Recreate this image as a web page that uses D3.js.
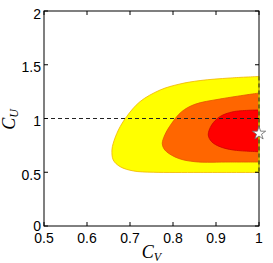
<!DOCTYPE html>
<html>
<head>
<meta charset="utf-8">
<script src="https://cdn.jsdelivr.net/npm/d3@7"></script>
<style>
  body { margin: 0; background: #fff; }
  svg { display: block; }
  .tick-label { font-family: "Liberation Sans", Arial, sans-serif; font-size: 14px; fill: #000; }
  .axis-title { font-family: "Liberation Serif", "DejaVu Serif", serif; font-style: italic; fill: #000; }
</style>
</head>
<body>
<div id="container"></div>
<script>
// x ticks (C_V) and y ticks (C_U)
var xTicks = [0.5, 0.6, 0.7, 0.8, 0.9, 1];
var xTickLabels = ['0.5', '0.6', '0.7', '0.8', '0.9', '1'];
var yTicks = [0, 0.5, 1, 1.5, 2];
var yTickLabels = ['0', '0.5', '1', '1.5', '2'];

// contour boundaries as [C_V, C_U], from top right round to bottom right
var outerContour = [
  [1.0, 1.391], [0.933, 1.377], [0.863, 1.353], [0.816, 1.321], [0.770, 1.265],
  [0.723, 1.156], [0.692, 1.017], [0.673, 0.893], [0.661, 0.769], [0.658, 0.707],
  [0.661, 0.614], [0.677, 0.552], [0.708, 0.512], [0.754, 0.500], [0.863, 0.498], [1.0, 0.498]
];
var middleContour = [
  [1.0, 1.237], [0.909, 1.181], [0.851, 1.132], [0.820, 1.063], [0.797, 0.955],
  [0.781, 0.847], [0.775, 0.769], [0.778, 0.726], [0.785, 0.691], [0.812, 0.630],
  [0.851, 0.598], [0.933, 0.595], [1.0, 0.595]
];
var innerContour = [
  [1.0, 1.079], [0.940, 1.063], [0.909, 1.017], [0.890, 0.940], [0.882, 0.847],
  [0.890, 0.784], [0.909, 0.738], [0.940, 0.707], [1.0, 0.691]
];
var bestFit = [1.0, 0.862];
var smReference = 1; // dashed line at C_U = 1

var width = 273, height = 263;
var margin = {top: 11, right: 14, bottom: 37, left: 44};

var svg = d3.select('#container').append('svg')
  .attr('width', width)
  .attr('height', height);

var x = d3.scaleLinear().domain([0.5, 1]).range([margin.left, width - margin.right]);
var y = d3.scaleLinear().domain([0, 2]).range([height - margin.bottom, margin.top]);

var line = d3.line()
  .x(function(d) { return x(d[0]); })
  .y(function(d) { return y(d[1]); })
  .curve(d3.curveCatmullRom);

var regions = [
  {pts: outerContour, fill: '#ffff00', stroke: '#f0b400'},
  {pts: middleContour, fill: '#ff6600', stroke: '#e25500'},
  {pts: innerContour, fill: '#ff0000', stroke: '#cc0000'}
];

svg.selectAll('.region')
  .data(regions)
  .enter()
  .append('path')
  .attr('class', 'region')
  .attr('d', function(d) { return line(d.pts) + 'Z'; })
  .attr('fill', function(d) { return d.fill; })
  .attr('stroke', function(d) { return d.stroke; })
  .attr('stroke-width', 0.8);

// dashed reference lines
svg.append('line')
  .attr('x1', x(0.5)).attr('x2', x(1))
  .attr('y1', y(smReference)).attr('y2', y(smReference))
  .attr('stroke', '#222').attr('stroke-width', 1)
  .attr('stroke-dasharray', '4,3');

// plot box
svg.append('rect')
  .attr('x', x(0.5)).attr('y', y(2))
  .attr('width', x(1) - x(0.5)).attr('height', y(0) - y(2))
  .attr('fill', 'none').attr('stroke', '#000').attr('stroke-width', 1);

svg.append('line')
  .attr('x1', x(1)).attr('x2', x(1))
  .attr('y1', y(outerContour[0][1])).attr('y2', y(outerContour[outerContour.length - 1][1]))
  .attr('stroke', '#ffff00').attr('stroke-width', 1.2);
svg.append('line')
  .attr('x1', x(1)).attr('x2', x(1))
  .attr('y1', y(outerContour[0][1])).attr('y2', y(outerContour[outerContour.length - 1][1]))
  .attr('stroke', '#222').attr('stroke-width', 1)
  .attr('stroke-dasharray', '4,3');

// ticks, inward on all four sides
var tl = 4;
xTicks.forEach(function(t) {
  svg.append('line').attr('x1', x(t)).attr('x2', x(t)).attr('y1', y(0)).attr('y2', y(0) - tl).attr('stroke', '#000');
  svg.append('line').attr('x1', x(t)).attr('x2', x(t)).attr('y1', y(2)).attr('y2', y(2) + tl).attr('stroke', '#000');
});
yTicks.forEach(function(t) {
  svg.append('line').attr('x1', x(0.5)).attr('x2', x(0.5) + tl).attr('y1', y(t)).attr('y2', y(t)).attr('stroke', '#000');
  svg.append('line').attr('x1', x(1)).attr('x2', x(1) - tl).attr('y1', y(t)).attr('y2', y(t)).attr('stroke', '#000');
});

svg.selectAll('.xlab')
  .data(xTicks)
  .enter()
  .append('text')
  .attr('class', 'tick-label')
  .attr('x', function(d) { return x(d); })
  .attr('y', y(0) + 16.5)
  .attr('text-anchor', 'middle')
  .text(function(d, i) { return xTickLabels[i]; });

svg.selectAll('.ylab')
  .data(yTicks)
  .enter()
  .append('text')
  .attr('class', 'tick-label')
  .attr('x', x(0.5) - 3)
  .attr('y', function(d) { return y(d) + (d === 0 ? 5 : 7.5); })
  .attr('text-anchor', 'end')
  .text(function(d, i) { return yTickLabels[i]; });

// best fit point
svg.append('path')
  .attr('d', d3.symbol(d3.symbolStar).size(55)())
  .attr('transform', 'translate(' + x(bestFit[0]) + ',' + y(bestFit[1]) + ')')
  .attr('fill', '#fff')
  .attr('stroke', '#666')
  .attr('stroke-width', 0.8);

// axis titles
var xt = svg.append('text')
  .attr('class', 'axis-title')
  .attr('x', (x(0.5) + x(1)) / 2)
  .attr('y', 258)
  .attr('text-anchor', 'middle')
  .style('font-size', '18px');
xt.append('tspan').text('C');
xt.append('tspan').attr('dy', 3).style('font-size', '12px').text('V');

var yt = svg.append('text')
  .attr('class', 'axis-title')
  .attr('transform', 'translate(15,' + (y(1) + 1) + ') rotate(-90)')
  .attr('text-anchor', 'middle')
  .style('font-size', '18px');
yt.append('tspan').text('C');
yt.append('tspan').attr('dy', 3).style('font-size', '12px').text('U');
</script>
</body>
</html>
